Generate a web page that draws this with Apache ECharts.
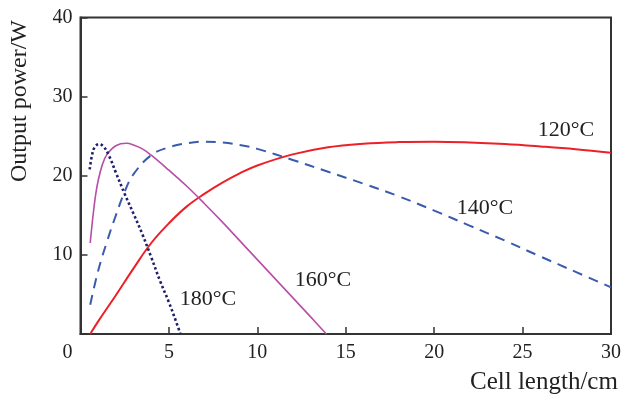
<!DOCTYPE html>
<html>
<head>
<meta charset="utf-8">
<script src="https://cdn.jsdelivr.net/npm/echarts@6/dist/echarts.min.js"></script>
<style>html,body{margin:0;padding:0;background:#fff}#c{width:624px;height:394px}</style>
</head>
<body>
<div id="c"></div>
<script>
const xTicks = [0, 5, 10, 15, 20, 25, 30];
const yTicks = [0, 10, 20, 30, 40];
const xTitle = 'Cell length/cm';
const yTitle = 'Output power/W';

const s120 = [[0.55,0],[1,1.6],[2,4.9],[3,8.3],[4,11.5],[5,14.0],[6,16.1],[7,17.7],[8,19.1],[9,20.3],[10,21.3],[12,22.7],[14,23.6],[16,24.05],[18,24.25],[20,24.3],[22,24.2],[24,24.0],[26,23.7],[28,23.35],[30,22.9]];
const s140 = [[0.55,3.7],[1,8.0],[1.5,11.7],[2,15.0],[2.5,18.0],[3,20.2],[4,22.6],[5,23.6],[6,24.1],[7,24.3],[8,24.2],[9,23.9],[10,23.4],[12,22.0],[14,20.5],[16,19.0],[18,17.4],[20,15.6],[22,13.7],[24,11.8],[26,9.8],[28,7.85],[30,5.9]];
const s160 = [[0.55,11.5],[0.7,14.8],[0.85,17.5],[1,19.4],[1.25,21.5],[1.5,22.7],[2,23.8],[2.6,24.1],[3,23.9],[3.5,23.4],[4,22.6],[5,20.7],[6,18.7],[7,16.5],[8,14.2],[9,11.8],[10,9.4],[11,7.0],[12,4.6],[13,2.2],[13.9,0]];
const s180 = [[0.52,20.8],[0.65,22.6],[0.8,23.6],[1.05,24.0],[1.3,23.7],[1.6,22.6],[2,20.4],[2.5,17.7],[3,15.2],[3.5,12.6],[4,9.7],[4.5,6.7],[5,4.0],[5.4,1.6],[5.65,0]];
const labels = ['120°C', '140°C', '160°C', '180°C'];

const chart = echarts.init(document.getElementById('c'), null, {renderer: 'canvas'});
const font = 'Liberation Serif, Times New Roman, serif';
const axisColor = '#333';

function line(name, data, color, width, type) {
  return {
    name, type: 'line', data, showSymbol: false, symbol: 'none',
    smooth: 0.4, clip: true,
    lineStyle: {color, width, type}
  };
}

chart.setOption({
  animation: false,
  backgroundColor: '#fff',
  grid: {left: 80.5, right: 11, top: 17.5, bottom: 60, show: true, borderColor: axisColor, borderWidth: 2, backgroundColor: 'transparent'},
  xAxis: {
    type: 'value', min: xTicks[0], max: xTicks[xTicks.length - 1], interval: 5,
    axisLine: {show: true, lineStyle: {color: axisColor, width: 2}},
    axisTick: {show: true, inside: true, length: 7, lineStyle: {color: axisColor, width: 1.5}},
    axisLabel: {
      color: '#222', fontFamily: font, fontSize: 20, margin: 9,
      formatter: v => v === 0 ? '{z|0}' : String(v),
      rich: {z: {fontFamily: font, fontSize: 20, color: '#222', padding: [0, 26, 0, 0]}}
    },
    splitLine: {show: false}
  },
  yAxis: {
    type: 'value', min: yTicks[0], max: yTicks[yTicks.length - 1], interval: 10,
    axisLine: {show: true, lineStyle: {color: axisColor, width: 2}},
    axisTick: {show: true, inside: true, length: 7, lineStyle: {color: axisColor, width: 1.5}},
    axisLabel: {color: '#222', fontFamily: font, fontSize: 20, margin: 8, formatter: v => v === 0 ? '' : String(v)},
    splitLine: {show: false}
  },
  series: [
    line(labels[0], s120, '#ec2128', 2, 'solid'),
    line(labels[1], s140, '#3a5bad', 2, [10, 7]),
    line(labels[2], s160, '#b84ea5', 1.6, 'solid'),
    line(labels[3], s180, '#1f1f6e', 2.6, [2.5, 2.5])
  ],
  graphic: [
    {type: 'text', left: 470, top: 370, style: {text: xTitle, font: '25px ' + font, fill: '#222'}},
    {type: 'text', x: 20, y: 101, rotation: Math.PI / 2, style: {text: yTitle, font: '24px ' + font, fill: '#222', align: 'center', verticalAlign: 'middle'}},
    {type: 'text', x: 566, y: 130, style: {text: labels[0], font: '22px ' + font, fill: '#222', align: 'center', verticalAlign: 'middle'}},
    {type: 'text', x: 485, y: 208, style: {text: labels[1], font: '22px ' + font, fill: '#222', align: 'center', verticalAlign: 'middle'}},
    {type: 'text', x: 323, y: 280, style: {text: labels[2], font: '22px ' + font, fill: '#222', align: 'center', verticalAlign: 'middle'}},
    {type: 'text', x: 208, y: 299, style: {text: labels[3], font: '22px ' + font, fill: '#222', align: 'center', verticalAlign: 'middle'}}
  ]
});
</script>
</body>
</html>
